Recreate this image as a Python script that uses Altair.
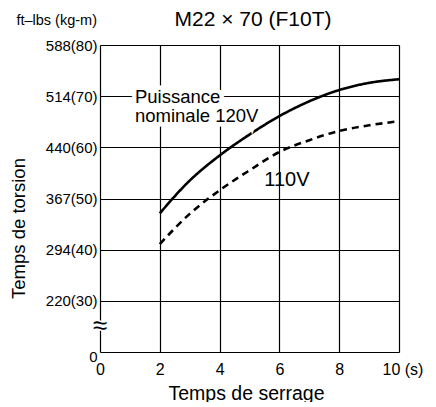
import altair as alt
import pandas as pd

# ---- data (kg-m scale; the bottom "0" is drawn at 20 because of the axis break)
time_s = [2, 3, 4, 5, 6, 7, 8, 9, 10]
torque_120v = [47.1, 53.5, 58.4, 62.5, 66.1, 69.0, 71.2, 72.6, 73.3]
torque_110v = [41.1, 47.0, 51.6, 55.5, 59.1, 61.4, 63.2, 64.3, 65.1]

y_ticks = [20, 30, 40, 50, 60, 70, 80]
y_labels = ["0", "220(30)", "294(40)", "367(50)", "440(60)", "514(70)", "588(80)"]
x_ticks = [0, 2, 4, 6, 8, 10]
x_labels = ["0", "2", "4", "6", "8", "10 (s)"]

ann_text = ["Puissance", "nominale 120V"]
ann_x = [1.17, 1.17]
ann_y = [69.9, 66.1]
lbl110_text = ["110V"]
lbl110_x = [6.25]
lbl110_y = [53.7]

FONT = "Liberation Sans"

df = pd.DataFrame({
    "t": time_s * 2,
    "v": torque_120v + torque_110v,
    "s": ["120V"] * len(time_s) + ["110V"] * len(time_s),
})
ann = pd.DataFrame({"x": ann_x, "y": ann_y, "text": ann_text})
lbl = pd.DataFrame({"x": lbl110_x, "y": lbl110_y, "text": lbl110_text})
brk = pd.DataFrame({"x": [0], "y": [25.0], "text": ["≈"]})

y_expr = " : ".join(
    f"datum.value == {v} ? '{l}'" for v, l in zip(y_ticks, y_labels)
) + " : ''"
x_expr = " : ".join(
    f"datum.value == {v} ? '{l}'" for v, l in zip(x_ticks, x_labels)
) + " : ''"

xs = alt.Scale(domain=[0, 10], nice=False, zero=False)
ys = alt.Scale(domain=[20, 80], nice=False, zero=False)

x_axis = alt.Axis(
    values=x_ticks, labelExpr=x_expr, grid=True, gridColor="black", gridWidth=1.2,
    ticks=False, domain=False, labelFont=FONT, labelFontSize=16, labelColor="black",
    labelPadding=9, labelAngle=0, labelFlush=False,
    labelAlign={"expr": "datum.value == 10 ? 'left' : 'center'"},
    labelOffset={"expr": "datum.value == 10 ? -17 : 0"},
    title="Temps de serrage", titleFont=FONT, titleFontSize=19.5, titleFontWeight="normal",
    titleColor="black", titleX=146, titleY=32, titleBaseline="top", titleAnchor="middle",
    titleAlign="center",
)
y_axis = alt.Axis(
    values=y_ticks, labelExpr=y_expr, grid=True, gridColor="black", gridWidth=1.2,
    ticks=False, domain=False, labelFont=FONT, labelFontSize=15, labelColor="black",
    labelPadding=3, labelFlush=False,
    labelOffset={"expr": "datum.value == 20 ? 4 : 0"},
    title="Temps de torsion", titleFont=FONT, titleFontSize=18.5, titleFontWeight="normal",
    titleColor="black", titleX=-82, titleY=183, titleAngle=270, titleAlign="center",
    titleBaseline="middle",
)

lines = alt.Chart(df).mark_line(color="black", strokeWidth=2.6, interpolate="monotone").encode(
    x=alt.X("t:Q", scale=xs, axis=x_axis),
    y=alt.Y("v:Q", scale=ys, axis=y_axis),
    strokeDash=alt.StrokeDash(
        "s:N",
        scale=alt.Scale(domain=["120V", "110V"], range=[[1, 0], [7, 5]]),
        legend=None,
    ),
)

ann_halo = alt.Chart(ann).mark_text(
    align="left", baseline="middle", font=FONT, fontSize=18.5, color="white",
    stroke="white", strokeWidth=9,
).encode(x=alt.X("x:Q", scale=xs), y=alt.Y("y:Q", scale=ys), text="text:N")
ann_txt = alt.Chart(ann).mark_text(
    align="left", baseline="middle", font=FONT, fontSize=18.5, color="black",
).encode(x=alt.X("x:Q", scale=xs), y=alt.Y("y:Q", scale=ys), text="text:N")

lbl_txt = alt.Chart(lbl).mark_text(
    align="center", baseline="middle", font=FONT, fontSize=20, color="black",
).encode(x=alt.X("x:Q", scale=xs), y=alt.Y("y:Q", scale=ys), text="text:N")

brk_halo = alt.Chart(brk).mark_text(
    align="center", baseline="middle", font=FONT, fontSize=26, color="white",
    stroke="white", strokeWidth=3,
).encode(x=alt.X("x:Q", scale=xs), y=alt.Y("y:Q", scale=ys), text="text:N")
brk_txt = alt.Chart(brk).mark_text(
    align="center", baseline="middle", font=FONT, fontSize=26, color="black",
).encode(x=alt.X("x:Q", scale=xs), y=alt.Y("y:Q", scale=ys), text="text:N")

title_txt = alt.Chart(pd.DataFrame({"t": ["M22 × 70 (F10T)"]})).mark_text(
    align="center", baseline="middle", font=FONT, fontSize=21, color="black",
).encode(x=alt.value(153), y=alt.value(-25), text="t:N")
unit_txt = alt.Chart(pd.DataFrame({"t": ["ft–lbs (kg-m)"]})).mark_text(
    align="right", baseline="middle", font=FONT, fontSize=14.5, color="black",
).encode(x=alt.value(-3), y=alt.value(-24), text="t:N")

chart = alt.layer(
    lines, ann_halo, ann_txt, lbl_txt, brk_halo, brk_txt, title_txt, unit_txt
).properties(
    width=299, height=307,
    autosize=alt.AutoSizeParams(type="none"),
    padding={"left": 92, "top": 37, "right": 28, "bottom": 50},
).configure_view(
    stroke="black", strokeWidth=2.5, fill="white",
).configure(background="white")

chart.save("out.html", embed_options={"renderer": "svg", "actions": False})
